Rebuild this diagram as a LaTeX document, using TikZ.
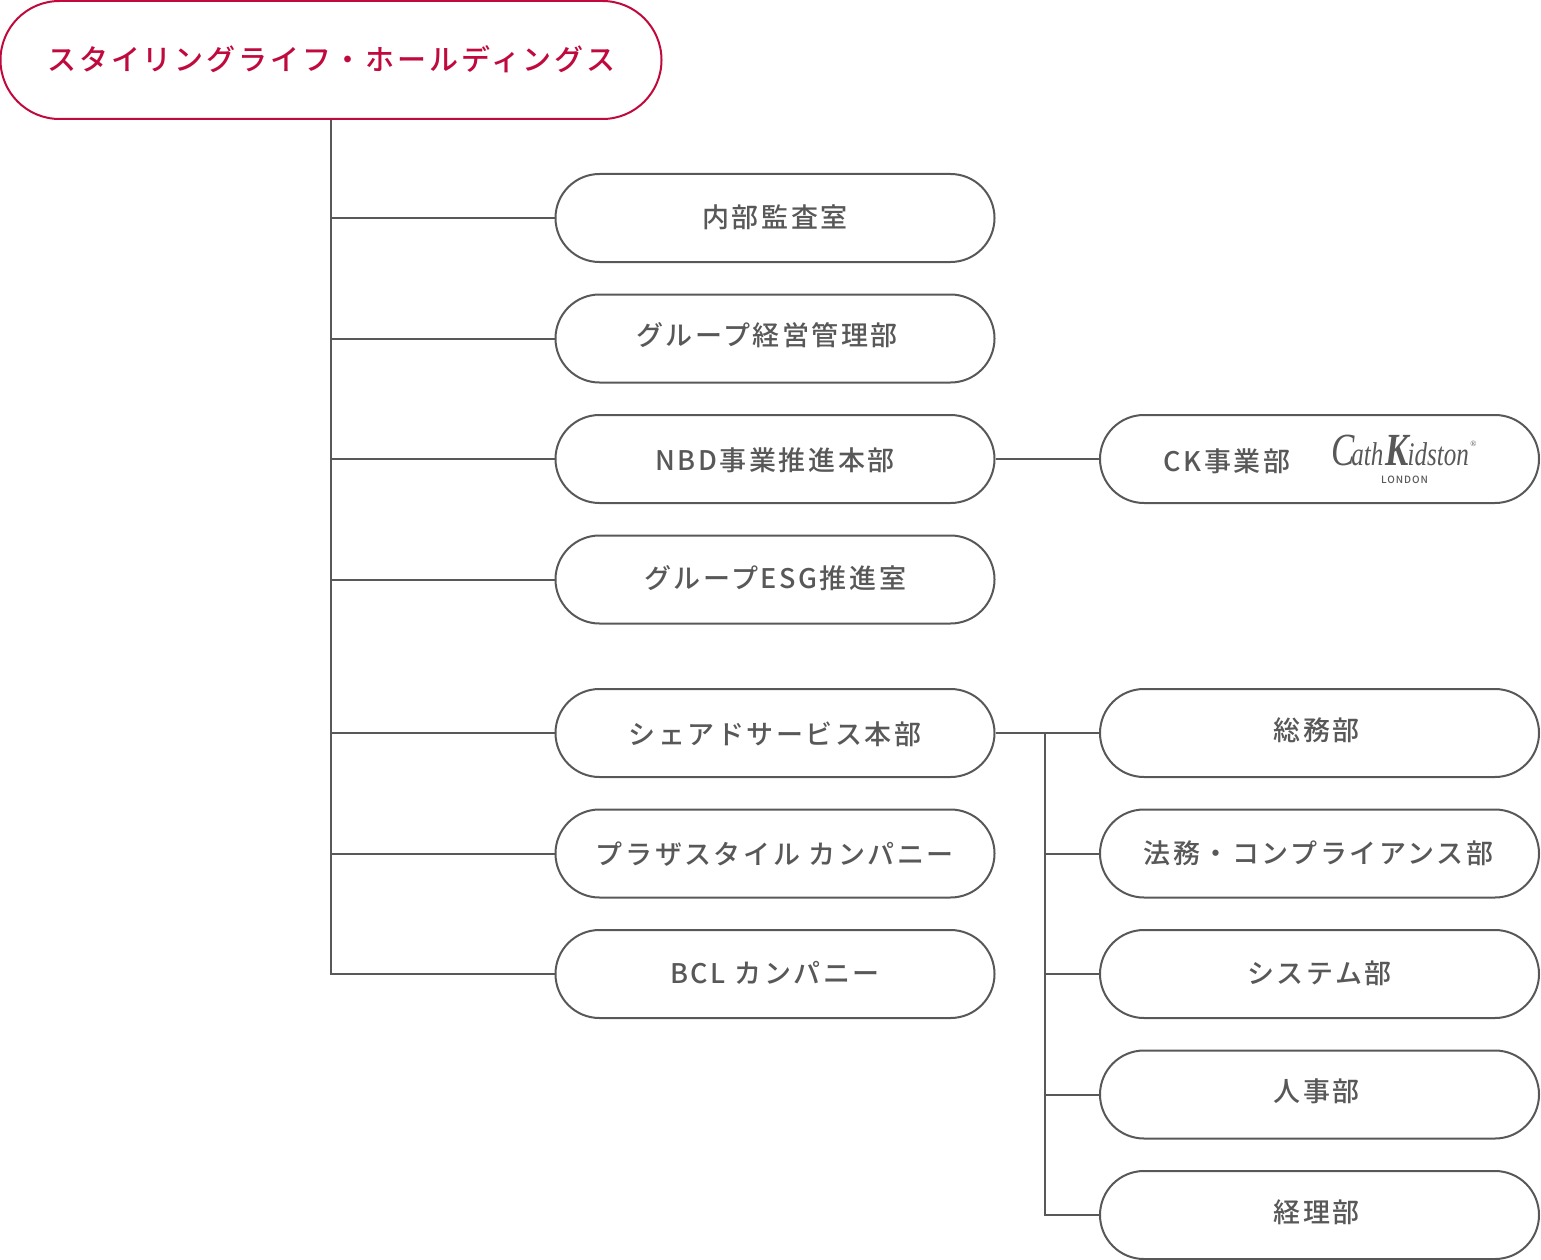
\documentclass[tikz,border=0pt]{standalone}
\usepackage{graphicx}
\usepackage{fontspec}
\setmainfont{Noto Sans CJK JP Medium}[LetterSpace=9.5]
\newfontfamily\topfont{Noto Sans CJK JP Medium}[LetterSpace=9.8]
\newfontfamily\logofont{Liberation Serif}
\definecolor{boxgray}{HTML}{585858}
\definecolor{topred}{HTML}{C00A3E}
% nudge a label by dx, dy without touching its box
\newcommand{\nudged}[3]{\raisebox{#2pt}{\kern#1pt #3\kern-#1pt}}
\tikzset{
  orgbox/.style={draw=boxgray, line width=2pt, rounded corners=44pt, fill=white, minimum width=439pt, minimum height=88pt, inner sep=0pt, text=boxgray, font=\fontsize{27pt}{30pt}\selectfont, text height=22pt, text depth=4pt},
  topbox/.style={orgbox, draw=topred, text=topred, rounded corners=59pt, minimum width=661pt, minimum height=118pt, font=\topfont\fontsize{29pt}{32pt}\selectfont},
  orgline/.style={draw=boxgray, line width=2pt},
}
\begin{document}
\begin{tikzpicture}[x=1pt, y=-1pt]
\useasboundingbox (0,0) rectangle (1541,1260);
\node[topbox] (holdings) at (331,60) {\nudged{0.5}{-2}{スタイリングライフ・ホールディングス}};
\node[orgbox] (audit) at (775,218) {内部監査室};
\node[orgbox] (mgmt) at (775,338.5) {\nudged{-8}{2}{グループ経営管理部}};
\node[orgbox] (nbd) at (775,459) {\nudged{0}{-2}{NBD事業推進本部}};
\node[orgbox] (esg) at (775,579.5) {グループESG推進室};
\node[orgbox] (shared) at (775,733) {\nudged{0}{-2}{シェアドサービス本部}};
\node[orgbox] (plaza) at (775,853.5) {\nudged{0}{-2}{プラザスタイル カンパニー}};
\node[orgbox] (bcl) at (775,974) {BCL カンパニー};
\node[orgbox] (ck) at (1319.5,459) {};
\node[orgbox] (general) at (1319.5,733) {\nudged{-3}{2}{総務部}};
\node[orgbox] (legal) at (1319.5,853.5) {\nudged{-1}{-1}{法務・コンプライアンス部}};
\node[orgbox] (system) at (1319.5,974) {システム部};
\node[orgbox] (hr) at (1319.5,1094.5) {\nudged{-3}{2}{人事部}};
\node[orgbox] (acct) at (1319.5,1215) {\nudged{-3}{2}{経理部}};
% logo row inside the CK box
\node[text=boxgray, font=\fontsize{27pt}{30pt}\selectfont, inner sep=0pt] (cktext) at (1227,461) {CK事業部};
\node[text=boxgray, inner sep=0pt, anchor=base, font=\logofont\itshape\fontsize{33pt}{36pt}\selectfont] (logo) at (1400,465) {\scalebox{.76}[1]{{\fontsize{46pt}{46pt}\selectfont C}\kern-4pt ath\kern3pt{\bfseries\fontsize{46pt}{46pt}\selectfont K}\kern-2pt idston}};
\node[text=boxgray, inner sep=0pt, font=\logofont\fontsize{8pt}{8pt}\selectfont] (regmark) at (1473.5,443.5) {®};
\node[text=boxgray, inner sep=0pt, font=\fontsize{10pt}{12pt}\selectfont] (london) at (1404.5,480) {LONDON};
% connectors
\foreach \dept in {audit,mgmt,nbd,esg,shared,plaza,bcl}
  \draw[orgline] (holdings.south) |- (\dept.west);
\draw[orgline] (nbd.east) -- (ck.west);
\draw[orgline] (shared.east) -- (general.west);
\coordinate (branch) at (1045,733);
\foreach \dept in {legal,system,hr,acct}
  \draw[orgline] (branch) |- (\dept.west);
\end{tikzpicture}
\end{document}
